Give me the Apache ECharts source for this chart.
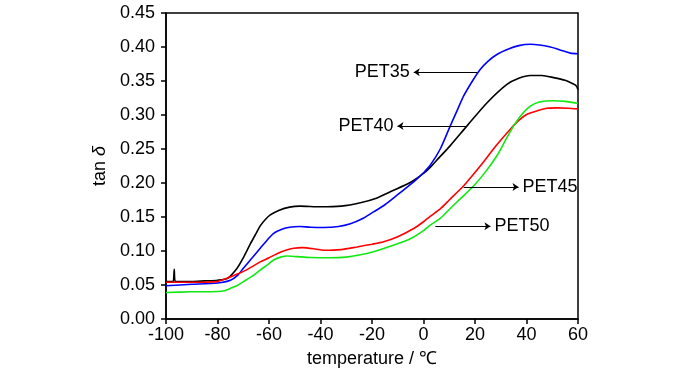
<!DOCTYPE html>
<html>
<head>
<meta charset="utf-8">
<script src="https://cdn.jsdelivr.net/npm/echarts@6/dist/echarts.min.js"></script>
<style>html,body{margin:0;padding:0;background:#fff}#c{width:700px;height:373px}</style>
</head>
<body>
<div id="c"></div>
<script>
// x ticks / y ticks
const xTicks = [-100, -80, -60, -40, -20, 0, 20, 40, 60];
const yTicks = [0.00, 0.05, 0.10, 0.15, 0.20, 0.25, 0.30, 0.35, 0.40, 0.45];

// series: [temperature, tan delta]
const pet40 = [[-100,0.055],[-98,0.055],[-97.2,0.055],[-96.8,0.073],[-96.4,0.055],[-90,0.055],[-85,0.056],[-80,0.057],[-76,0.060],[-72.4,0.0746],[-70,0.090],[-67.3,0.110],[-65,0.126],[-63.4,0.137],[-61.5,0.146],[-59.5,0.153],[-56,0.160],[-52,0.1645],[-48,0.166],[-40,0.165],[-32,0.166],[-24.5,0.171],[-18,0.178],[-12.9,0.187],[-5,0.201],[0,0.214],[2.6,0.223],[6,0.237],[10.4,0.255],[16.9,0.284],[24.7,0.318],[32.4,0.345],[37,0.354],[41.5,0.358],[46,0.358],[50.5,0.355],[55,0.351],[58,0.346],[59.3,0.343],[60,0.337]];
const pet35 = [[-100,0.049],[-90,0.051],[-80,0.053],[-75,0.057],[-72,0.065],[-69.9,0.075],[-66.5,0.090],[-63.4,0.104],[-60.5,0.117],[-58.2,0.126],[-55,0.132],[-52,0.135],[-48,0.136],[-44,0.135],[-38.8,0.1346],[-33,0.136],[-28.4,0.140],[-24,0.147],[-19.4,0.1575],[-15,0.168],[-10.3,0.182],[-6,0.195],[-2.5,0.206],[0,0.215],[2.6,0.226],[6.5,0.250],[10.4,0.284],[13,0.306],[15.6,0.328],[19,0.350],[22,0.367],[25,0.379],[28.5,0.389],[33,0.397],[37,0.402],[41.5,0.404],[45,0.403],[49.3,0.400],[52,0.397],[54.4,0.394],[57,0.391],[60,0.390]];
const pet45 = [[-100,0.054],[-90,0.054],[-80.2,0.055],[-76.3,0.060],[-73,0.065],[-69.9,0.070],[-66.5,0.077],[-63.4,0.084],[-60,0.090],[-56.9,0.096],[-53.5,0.101],[-50.4,0.104],[-47,0.105],[-42,0.103],[-38.8,0.101],[-32,0.102],[-25.8,0.106],[-20,0.110],[-15.5,0.1136],[-10,0.121],[-3.8,0.133],[0,0.143],[2.6,0.151],[6.5,0.162],[10,0.175],[15.6,0.196],[19,0.211],[23.3,0.231],[28,0.254],[33.7,0.279],[37,0.292],[40.2,0.301],[44,0.306],[48,0.310],[52,0.3105],[56,0.310],[60,0.309]];
const pet50 = [[-100,0.039],[-90,0.040],[-80,0.0405],[-77,0.042],[-75,0.045],[-72.5,0.049],[-69.9,0.055],[-66.5,0.063],[-63.4,0.072],[-60.5,0.080],[-58.2,0.0867],[-55.5,0.091],[-53,0.0926],[-49.1,0.0917],[-44,0.0905],[-36.2,0.090],[-30,0.091],[-25,0.094],[-19.4,0.099],[-12,0.108],[-5.1,0.118],[0,0.130],[2.6,0.138],[6.5,0.148],[10,0.161],[13,0.172],[19.5,0.196],[24,0.216],[28.5,0.240],[32,0.264],[35,0.284],[38,0.300],[41.5,0.313],[45,0.319],[50.5,0.321],[55,0.320],[60,0.317]];

// annotation arrows: [label, tailX, headX, y]
const annotations = [
  ['PET35', 20.8, -3.8, 0.363],
  ['PET40', 16.9, -10.1, 0.284],
  ['PET45', 15.6, 36.9, 0.194],
  ['PET50', 4.6, 26.0, 0.1365]
];

const FONT = "'Liberation Sans', Arial, sans-serif";
const FS = 18;
const chart = echarts.init(document.getElementById('c'), null, {renderer: 'canvas'});

function line(name, data, color) {
  return {name, type: 'line', data, showSymbol: false, smooth: 0.25, animation: false,
    lineStyle: {color, width: 1.6}, itemStyle: {color}, z: 3};
}

const arrowSeries = {
  type: 'line', data: [], silent: true, animation: false,
  markLine: {
    silent: true, animation: false,
    symbol: ['none', 'arrow'], symbolSize: 6,
    lineStyle: {color: '#000', width: 1, type: 'solid'},
    itemStyle: {color: '#000'},
    label: {show: true, position: 'end', distance: 4, color: '#000', fontSize: FS, fontFamily: FONT,
      formatter: p => p.name},
    data: annotations.map(a => [{name: a[0], coord: [a[1], a[3]]}, {coord: [a[2], a[3]]}])
  }
};

chart.setOption({
  backgroundColor: '#fff',
  grid: {left: 166, right: 122, top: 13, bottom: 52, show: true, borderColor: '#000', borderWidth: 1.5, backgroundColor: 'transparent'},
  xAxis: {
    type: 'value', min: xTicks[0], max: xTicks[xTicks.length - 1], interval: 20,
    name: 'temperature / ℃', nameLocation: 'middle', nameGap: 31,
    nameTextStyle: {color: '#000', fontSize: FS, fontFamily: FONT},
    axisLine: {show: true, onZero: false, lineStyle: {color: '#000', width: 1.5}},
    axisTick: {show: true, inside: false, length: 5, lineStyle: {color: '#000', width: 1.5}},
    axisLabel: {color: '#000', fontSize: FS, fontFamily: FONT, margin: 7},
    splitLine: {show: false}
  },
  yAxis: {
    type: 'value', min: yTicks[0], max: yTicks[yTicks.length - 1], interval: 0.05,
    name: 'tan {i|δ}', nameLocation: 'middle', nameGap: 57, nameRotate: 90,
    nameTextStyle: {color: '#000', fontSize: FS, fontFamily: FONT,
      rich: {i: {fontStyle: 'italic', fontSize: FS, fontFamily: FONT, color: '#000'}}},
    axisLine: {show: true, onZero: false, lineStyle: {color: '#000', width: 1.5}},
    axisTick: {show: true, inside: false, length: 5, lineStyle: {color: '#000', width: 1.5}},
    axisLabel: {color: '#000', fontSize: FS, fontFamily: FONT, margin: 11, formatter: v => v.toFixed(2)},
    splitLine: {show: false}
  },
  series: [
    line('PET40', pet40, '#000000'),
    line('PET35', pet35, '#0000ff'),
    line('PET45', pet45, '#ff0000'),
    line('PET50', pet50, '#11e811'),
    arrowSeries
  ]
});
</script>
</body>
</html>
